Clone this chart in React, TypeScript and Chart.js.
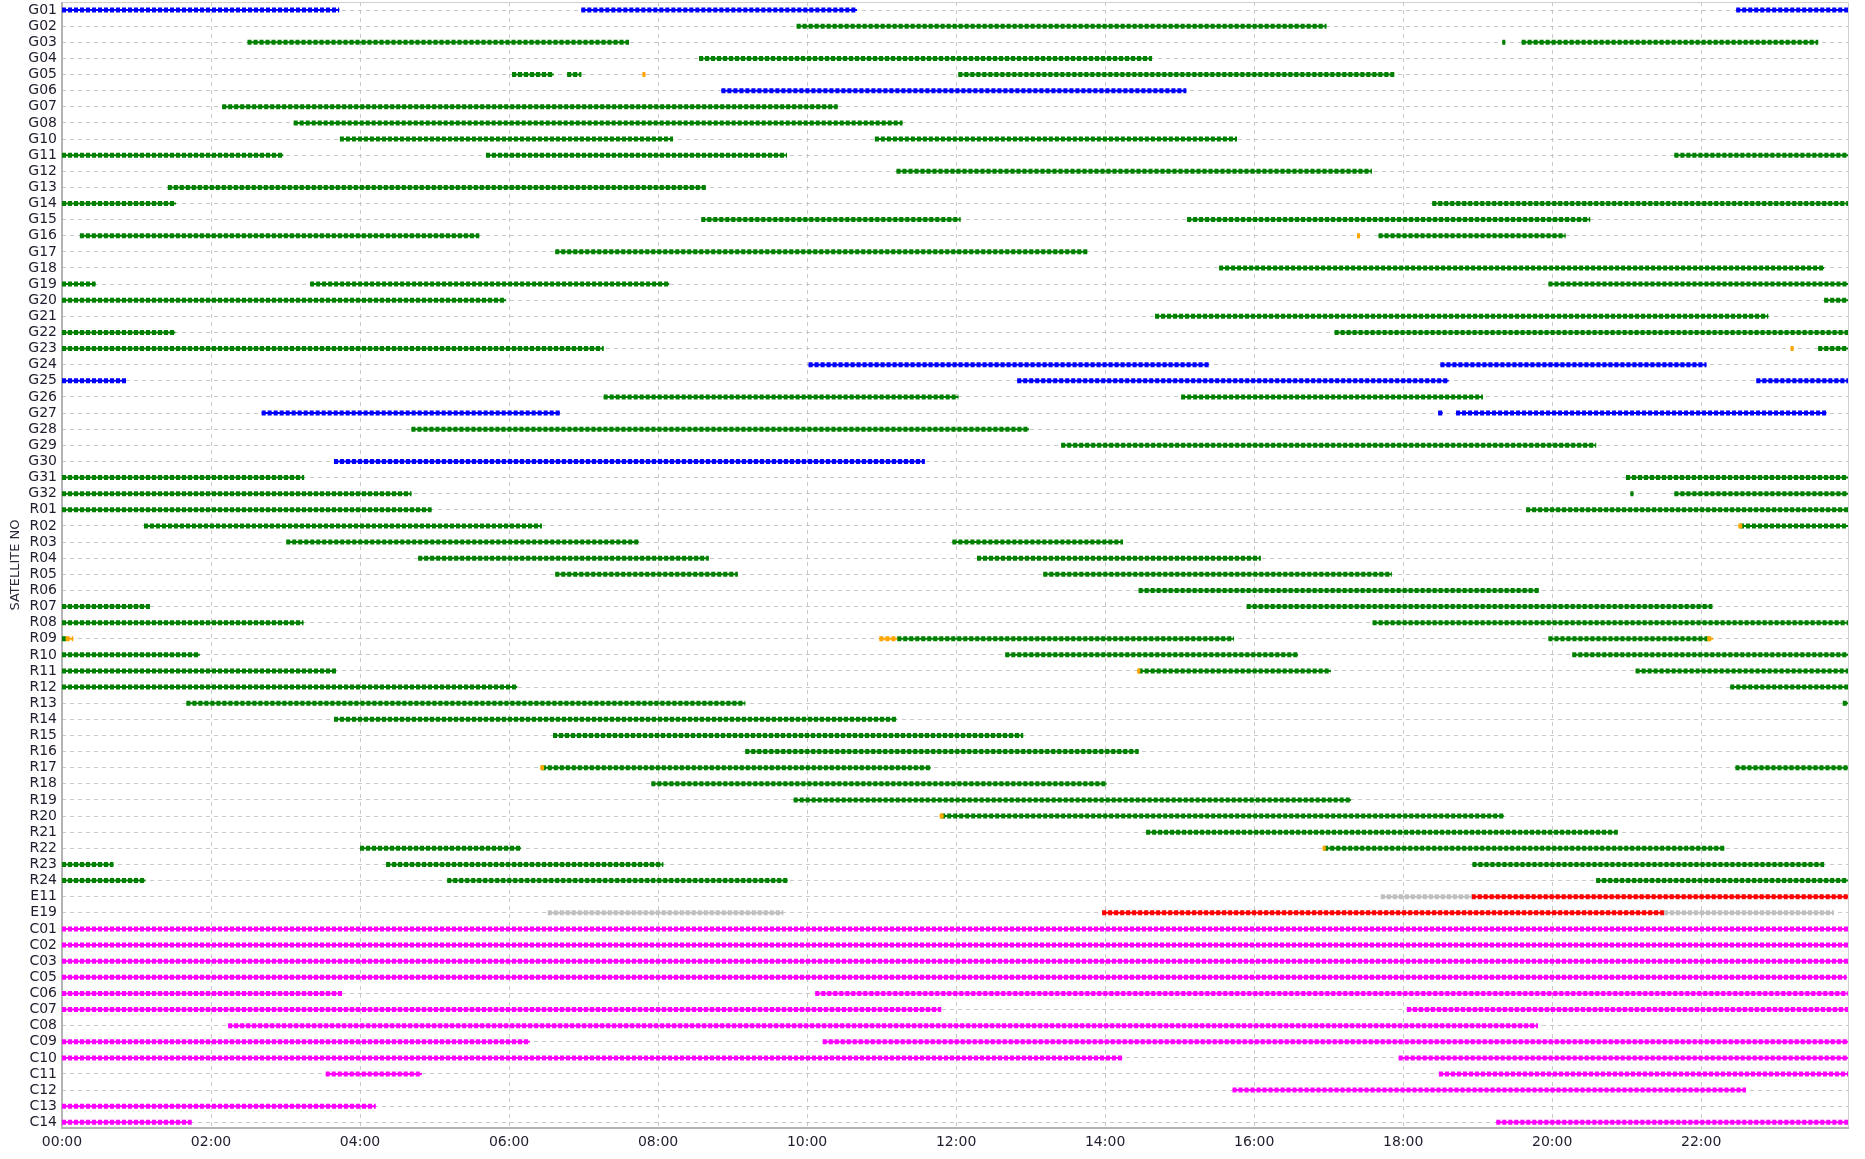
import { useEffect, useRef } from "react";
import { Chart, registerables } from "chart.js";

Chart.register(...registerables);

const satellites = [
  "G01", "G02", "G03", "G04", "G05", "G06", "G07", "G08", "G10", "G11", "G12", "G13", "G14", "G15", "G16", "G17",
  "G18", "G19", "G20", "G21", "G22", "G23", "G24", "G25", "G26", "G27", "G28", "G29", "G30", "G31", "G32",
  "R01", "R02", "R03", "R04", "R05", "R06", "R07", "R08", "R09", "R10", "R11", "R12", "R13", "R14", "R15", "R16",
  "R17", "R18", "R19", "R20", "R21", "R22", "R23", "R24",
  "E11", "E19",
  "C01", "C02", "C03", "C05", "C06", "C07", "C08", "C09", "C10", "C11", "C12", "C13", "C14",
];

const hourTicks = [0, 2, 4, 6, 8, 10, 12, 14, 16, 18, 20, 22];
const dayEnd = 23.97;

type Arc = [string, number, number];

const blueArcs: Arc[] = [
  ["G01", 0, 3.72], ["G01", 6.97, 10.67], ["G01", 22.47, 23.97],
  ["G06", 8.85, 15.09],
  ["G24", 10.02, 15.39], ["G24", 18.5, 22.07],
  ["G25", 0, 0.86], ["G25", 12.82, 18.61], ["G25", 22.74, 23.97],
  ["G27", 2.68, 6.68], ["G27", 18.47, 18.53], ["G27", 18.71, 23.68],
  ["G30", 3.65, 11.58],
];

const greenArcs: Arc[] = [
  ["G02", 9.86, 16.97],
  ["G03", 2.49, 7.61], ["G03", 19.33, 19.37], ["G03", 19.59, 23.57],
  ["G04", 8.55, 14.63],
  ["G05", 6.04, 6.6], ["G05", 6.78, 6.97], ["G05", 12.03, 17.88],
  ["G07", 2.15, 10.41],
  ["G08", 3.11, 11.28],
  ["G10", 3.73, 8.2], ["G10", 10.91, 15.77],
  ["G11", 0, 2.97], ["G11", 5.69, 9.73], ["G11", 21.64, 23.97],
  ["G12", 11.2, 17.58],
  ["G13", 1.42, 8.64],
  ["G14", 0, 1.53], ["G14", 18.39, 23.97],
  ["G15", 8.58, 12.06], ["G15", 15.1, 20.51],
  ["G16", 0.24, 5.6], ["G16", 17.67, 20.18],
  ["G17", 6.62, 13.76],
  ["G18", 15.53, 23.65],
  ["G19", 0, 0.45], ["G19", 3.33, 8.15], ["G19", 19.95, 23.97],
  ["G20", 0, 5.96], ["G20", 23.65, 23.97],
  ["G21", 14.67, 22.9],
  ["G22", 0, 1.52], ["G22", 17.08, 23.97],
  ["G23", 0, 7.27], ["G23", 23.57, 23.97],
  ["G26", 7.27, 12.03], ["G26", 15.02, 19.07],
  ["G28", 4.69, 12.98],
  ["G29", 13.41, 20.59],
  ["G31", 0, 3.25], ["G31", 20.99, 23.97],
  ["G32", 0, 4.69], ["G32", 21.05, 21.09], ["G32", 21.64, 23.97],
  ["R01", 0, 4.96], ["R01", 19.65, 23.97],
  ["R02", 1.1, 6.44], ["R02", 22.52, 23.97],
  ["R03", 3.01, 7.74], ["R03", 11.95, 14.24],
  ["R04", 4.78, 8.68], ["R04", 12.28, 16.09],
  ["R05", 6.62, 9.07], ["R05", 13.17, 17.85],
  ["R06", 14.45, 19.82],
  ["R07", 0, 1.18], ["R07", 15.9, 22.15],
  ["R08", 0, 3.24], ["R08", 17.59, 23.97],
  ["R09", 0, 0.06], ["R09", 11.21, 15.73], ["R09", 19.95, 22.12],
  ["R10", 0, 1.85], ["R10", 12.66, 16.59], ["R10", 20.27, 23.97],
  ["R11", 0, 3.68], ["R11", 14.45, 17.03], ["R11", 21.12, 23.97],
  ["R12", 0, 6.11], ["R12", 22.39, 23.97],
  ["R13", 1.67, 9.17], ["R13", 23.9, 23.97],
  ["R14", 3.65, 11.2],
  ["R15", 6.59, 12.9],
  ["R16", 9.17, 14.45],
  ["R17", 6.44, 11.66], ["R17", 22.46, 23.97],
  ["R18", 7.91, 14.02],
  ["R19", 9.82, 17.3],
  ["R20", 11.8, 19.35],
  ["R21", 14.55, 20.88],
  ["R22", 4.0, 6.16], ["R22", 16.94, 22.31],
  ["R23", 0, 0.69], ["R23", 4.35, 8.07], ["R23", 18.93, 23.65],
  ["R24", 0, 1.12], ["R24", 5.17, 9.74], ["R24", 20.59, 23.97],
];

const orangeArcs: Arc[] = [
  ["G05", 7.79, 7.83],
  ["G16", 17.38, 17.42],
  ["G23", 23.2, 23.24],
  ["R02", 22.5, 22.55],
  ["R09", 0.05, 0.15], ["R09", 10.97, 11.21], ["R09", 22.08, 22.16],
  ["R11", 14.43, 14.47],
  ["R17", 6.42, 6.47],
  ["R20", 11.78, 11.83],
  ["R22", 16.92, 16.96],
];

const grayArcs: Arc[] = [
  ["E11", 17.7, 18.92],
  ["E19", 6.52, 9.68], ["E19", 21.5, 23.78],
];

const redArcs: Arc[] = [
  ["E11", 18.92, 23.97],
  ["E19", 13.96, 21.5],
];

const magentaArcs: Arc[] = [
  ["C01", 0, 23.97],
  ["C02", 0, 23.97],
  ["C03", 0, 23.97],
  ["C05", 0, 23.95],
  ["C06", 0, 3.76], ["C06", 10.11, 23.97],
  ["C07", 0, 11.8], ["C07", 18.05, 23.97],
  ["C08", 2.23, 19.81],
  ["C09", 0, 6.28], ["C09", 10.21, 23.97],
  ["C10", 0, 14.23], ["C10", 17.94, 23.97],
  ["C11", 3.54, 4.83], ["C11", 18.48, 23.97],
  ["C12", 15.71, 22.6],
  ["C13", 0, 4.21],
  ["C14", 0, 1.74], ["C14", 19.25, 23.97],
];

const colorGroups: { arcs: Arc[]; color: string; top: boolean }[] = [
  { arcs: blueArcs, color: "#0000ff", top: false },
  { arcs: greenArcs, color: "#008000", top: false },
  { arcs: grayArcs, color: "#c0c0c0", top: false },
  { arcs: redArcs, color: "#ff0000", top: false },
  { arcs: magentaArcs, color: "#ff00ff", top: false },
  { arcs: orangeArcs, color: "#ffa500", top: true },
];

function toPoints(arcs: Arc[]) {
  const pts: { x: number; y: number | null }[] = [];
  for (const [sat, s, e] of arcs) {
    const row = satellites.indexOf(sat);
    pts.push({ x: s, y: row }, { x: e, y: row }, { x: e, y: null });
  }
  return pts;
}

const frame = {
  id: "plotFrame",
  beforeDatasetsDraw(chart: any) {
    const { ctx, chartArea } = chart;
    const { left, right, top, bottom } = chartArea;
    ctx.save();
    ctx.strokeStyle = "#cfcfcf";
    ctx.lineWidth = 1;
    ctx.beginPath();
    ctx.moveTo(left, top + 0.5);
    ctx.lineTo(right + 0.5, top + 0.5);
    ctx.lineTo(right + 0.5, bottom);
    ctx.stroke();
    ctx.strokeStyle = "#b4b4b4";
    ctx.lineWidth = 2;
    ctx.beginPath();
    ctx.moveTo(left, top);
    ctx.lineTo(left, bottom);
    ctx.lineTo(right + 1, bottom);
    ctx.stroke();
    ctx.restore();
  },
};

export default function App() {
  const ref = useRef<HTMLCanvasElement | null>(null);

  useEffect(() => {
    document.body.style.margin = "0";
    if (!ref.current) return;
    const datasets: any[] = [];
    for (const g of colorGroups) {
      const data = toPoints(g.arcs);
      datasets.push({
        data,
        borderColor: g.color,
        borderWidth: 2,
        pointRadius: 0,
        tension: 0,
        spanGaps: false,
        order: g.top ? 1 : 3,
      });
      datasets.push({
        data,
        borderColor: g.color,
        borderWidth: 5,
        borderDash: [4, 2],
        borderCapStyle: "butt",
        pointRadius: 0,
        tension: 0,
        spanGaps: false,
        order: g.top ? 0 : 2,
      });
    }

    const chart = new Chart(ref.current, {
      type: "line",
      data: { datasets },
      plugins: [frame],
      options: {
        animation: false,
        responsive: false,
        layout: { padding: { top: 2, right: 17, left: 0, bottom: 0 } },
        plugins: { legend: { display: false }, tooltip: { enabled: false } },
        scales: {
          x: {
            type: "linear",
            min: 0,
            max: dayEnd,
            afterBuildTicks: (scale: any) => {
              scale.ticks = hourTicks.map((v) => ({ value: v }));
            },
            afterFit: (scale: any) => {
              scale.height = 31;
            },
            ticks: {
              autoSkip: false,
              maxRotation: 0,
              padding: 6,
              color: "#1e1e2e",
              font: { family: "DejaVu Sans", size: 14 },
              callback: (v: any) => `${String(v).padStart(2, "0")}:00`,
            },
            grid: { color: "#c8c8c8", lineWidth: 1, drawTicks: false },
            border: { display: false, dash: [4, 4] },
          },
          y: {
            type: "linear",
            reverse: true,
            min: -0.5,
            max: 69.35,
            afterBuildTicks: (scale: any) => {
              scale.ticks = satellites.map((_, i) => ({ value: i }));
            },
            afterFit: (scale: any) => {
              scale.width = 62;
              scale.paddingTop = 0;
              scale.paddingBottom = 0;
            },
            ticks: {
              autoSkip: false,
              padding: 5,
              color: "#1e1e2e",
              font: { family: "DejaVu Sans", size: 14 },
              callback: (v: any) => satellites[v as number] ?? "",
            },
            title: {
              display: true,
              text: "SATELLITE NO",
              color: "#2a2a3a",
              font: { family: "DejaVu Sans", size: 13 },
              padding: { top: 8, bottom: 0 },
            },
            grid: { color: "#c8c8c8", lineWidth: 1, drawTicks: false },
            border: { display: false, dash: [4, 4] },
          },
        },
      },
    });
    return () => chart.destroy();
  }, []);

  return (
    <div style={{ width: 1865, height: 1159 }}>
      <canvas ref={ref} width={1865} height={1159} style={{ width: 1865, height: 1159, display: "block" }} />
    </div>
  );
}
